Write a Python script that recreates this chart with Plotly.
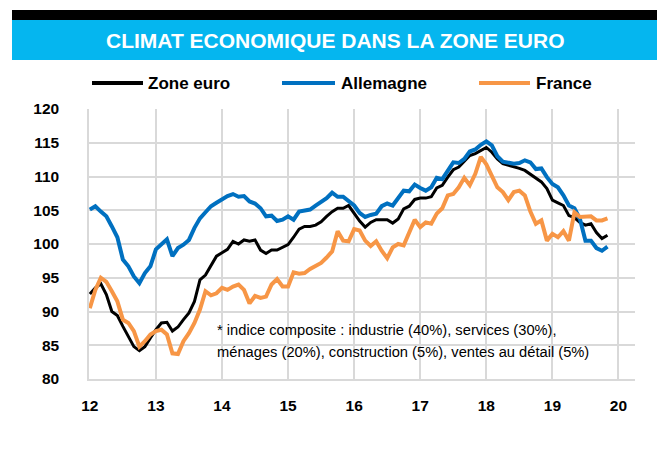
import plotly.graph_objects as go

# ---- data (monthly, Jan 2012 -> Nov 2019) ----
months = list(range(95))  # month index from Jan 2012
zone_euro = [92.6, 93.5, 94.1, 92.5, 90.0, 89.4, 87.8, 86.3, 84.8, 84.2, 84.8, 86.1,
             87.3, 88.3, 88.4, 87.1, 87.7, 88.8, 89.8, 91.5, 94.7, 95.4, 96.7, 98.2,
             98.7, 99.2, 100.4, 100.0, 100.6, 100.4, 100.6, 99.1, 98.6, 99.1, 99.1, 99.5,
             99.9, 101.0, 102.2, 102.6, 102.6, 102.8, 103.3, 104.1, 104.8, 105.3, 105.3, 105.7,
             104.6, 103.4, 102.5, 103.2, 103.6, 103.6, 103.6, 103.1, 103.7, 105.2, 105.6, 106.6,
             106.8, 106.8, 107.0, 108.3, 108.7, 109.9, 111.0, 111.4, 112.2, 113.1, 113.4, 113.9,
             114.3, 113.6, 112.6, 111.9, 111.7, 111.4, 111.2, 110.9, 110.3, 109.7, 109.2, 108.2,
             106.5, 106.1, 105.7, 104.2, 103.9, 103.2, 102.8, 103.0, 101.7, 100.8, 101.3]
allemagne = [105.1, 105.6, 104.8, 104.1, 102.6, 101.0, 97.7, 96.7, 95.2, 94.2, 95.7, 96.7,
             99.2, 100.0, 100.7, 98.2, 99.4, 99.9, 100.6, 102.4, 103.8, 104.7, 105.6, 106.1,
             106.6, 107.1, 107.4, 107.0, 107.1, 106.3, 106.0, 105.3, 104.1, 104.2, 103.4, 103.6,
             104.1, 103.6, 104.8, 104.9, 105.1, 105.7, 106.3, 106.8, 107.6, 107.0, 107.0, 106.4,
             105.7, 104.6, 104.0, 104.3, 104.5, 105.6, 106.0, 105.7, 106.7, 107.9, 107.8, 108.8,
             108.3, 107.9, 108.4, 109.8, 109.6, 110.9, 112.1, 112.0, 112.6, 113.7, 114.0, 114.7,
             115.2, 114.6, 113.0, 112.2, 112.1, 111.9, 112.0, 112.4, 112.1, 111.1, 111.2, 109.9,
             108.9, 108.4, 107.2, 105.7, 105.3, 103.7, 100.5, 100.5, 99.4, 99.0, 99.6]
france = [90.5, 93.2, 95.0, 94.4, 93.0, 91.5, 88.8, 88.3, 87.1, 84.8, 85.6, 86.6,
          87.1, 87.3, 86.6, 83.8, 83.7, 85.6, 86.8, 88.3, 90.3, 93.0, 92.4, 92.7,
          93.5, 93.2, 93.7, 94.0, 93.2, 91.2, 92.3, 92.0, 92.2, 94.0, 94.8, 93.7,
          93.7, 95.8, 95.6, 95.7, 96.3, 96.8, 97.2, 98.0, 98.9, 101.9, 100.5, 100.4,
          102.2, 102.0, 100.5, 99.7, 100.4, 99.0, 97.9, 99.5, 100.0, 99.8, 101.8, 103.6,
          102.5, 103.2, 103.0, 104.5, 105.3, 107.2, 107.4, 108.4, 109.8, 108.7, 110.4, 112.9,
          111.8, 110.0, 108.4, 107.7, 106.5, 107.7, 107.9, 107.2, 104.8, 103.0, 103.5, 100.5,
          101.5, 101.0, 101.9, 100.5, 104.7, 104.0, 104.0, 104.1, 103.5, 103.5, 103.8]
year_ticks = [0, 12, 24, 36, 48, 60, 72, 84, 96]
year_labels = ["12", "13", "14", "15", "16", "17", "18", "19", "20"]
series_names = ["Zone euro", "Allemagne", "France"]
title_text = "CLIMAT ECONOMIQUE DANS LA ZONE EURO"
note_lines = ["* indice composite : industrie (40%), services (30%),",
              "ménages (20%), construction (5%), ventes au détail (5%)"]

BLACK = "#000000"
BLUE = "#0070C0"
ORANGE = "#F79646"
GRID = "#D9D9D9"
ARIAL = "Liberation Sans, Arial, sans-serif"

W, H = 657, 454
L, R, T, B = 89, 22, 109, 75
PW, PH = W - L - R, H - T - B


def px(x):
    return (x - L) / PW


def py(y):
    return (H - B - y) / PH


fig = go.Figure()
fig.add_trace(go.Scatter(x=months, y=zone_euro, mode="lines", name=series_names[0],
                         line=dict(color=BLACK, width=3)))
fig.add_trace(go.Scatter(x=months, y=allemagne, mode="lines", name=series_names[1],
                         line=dict(color=BLUE, width=4)))
fig.add_trace(go.Scatter(x=months, y=france, mode="lines", name=series_names[2],
                         line=dict(color=ORANGE, width=4)))

shapes = [
    dict(type="rect", xref="paper", yref="paper", x0=px(12), x1=px(657), y0=py(20), y1=py(10),
         fillcolor="#000000", line=dict(width=0), layer="above"),
    dict(type="rect", xref="paper", yref="paper", x0=px(12), x1=px(657), y0=py(60), y1=py(20),
         fillcolor="#05B6EF", line=dict(width=0), layer="above"),
]
annotations = [
    dict(text=f"<b>{title_text}</b>", xref="paper", yref="paper", x=px(335), y=py(40),
         xanchor="center", yanchor="middle", showarrow=False,
         font=dict(family=ARIAL, size=21, color="white")),
]
for line_txt, yy in zip(note_lines, [330, 352]):
    annotations.append(dict(text=line_txt, xref="paper", yref="paper", x=px(215), y=py(yy),
                            xanchor="left", yanchor="middle", align="left", showarrow=False,
                            font=dict(family=ARIAL, size=14.7, color="#000000")))
legend_items = [(series_names[0], BLACK, 92, 143, 146),
                (series_names[1], BLUE, 282, 335, 339),
                (series_names[2], ORANGE, 479, 530, 534)]
for name, col, lx0, lx1, tx in legend_items:
    shapes.append(dict(type="line", xref="paper", yref="paper", x0=px(lx0), x1=px(lx1),
                       y0=py(83), y1=py(83), line=dict(color=col, width=4)))
    annotations.append(dict(text=f"<b>{name}</b>", xref="paper", yref="paper", x=px(tx), y=py(83),
                            xanchor="left", yanchor="middle", showarrow=False,
                            font=dict(family=ARIAL, size=17, color="#000000")))

fig.update_layout(
    width=W, height=H,
    margin=dict(l=L, r=R, t=T, b=B, pad=0),
    paper_bgcolor="white", plot_bgcolor="white",
    showlegend=False,
    shapes=shapes, annotations=annotations,
    xaxis=dict(range=[-0.15, 99], tickmode="array", tickvals=year_ticks, ticktext=year_labels,
               showgrid=True, gridcolor=GRID, gridwidth=1.5, zeroline=False,
               showline=True, linecolor=GRID, linewidth=1.5, ticks="",
               ticklabelstandoff=12,
               tickfont=dict(family=ARIAL, size=15.5, color="#000000", weight="bold")),
    yaxis=dict(range=[80, 120], dtick=5, tick0=80,
               showgrid=True, gridcolor=GRID, gridwidth=1.5, zeroline=False,
               showline=True, linecolor=GRID, linewidth=1.5, ticks="",
               ticklabelstandoff=25,
               tickfont=dict(family=ARIAL, size=15.5, color="#000000", weight="bold")),
)

fig.write_html("out.html", config={"displayModeBar": False},
               post_script="document.body.style.margin='0';")
